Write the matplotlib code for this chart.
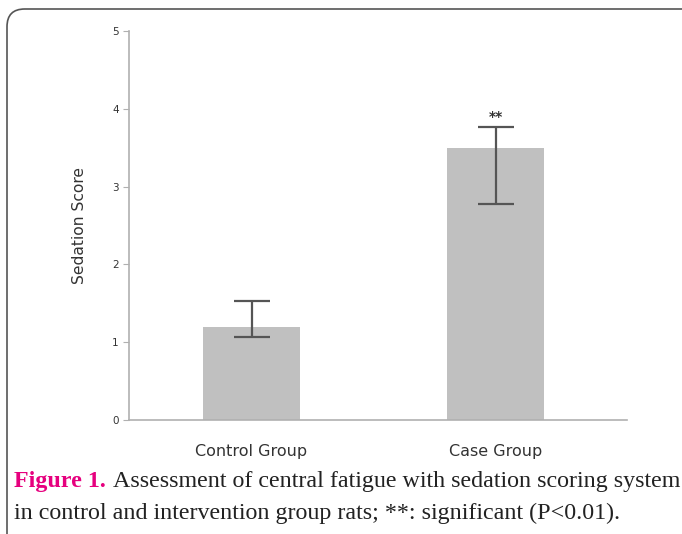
import numpy as np
import matplotlib.pyplot as plt
from matplotlib.patches import FancyBboxPatch

groups = ['Control Group', 'Case Group']
scores = [1.2, 3.5]
err_low = [0.13, 0.72]
err_high = [0.33, 0.27]
sig = ['', '**']
yticks = [0, 1, 2, 3, 4, 5]

fig = plt.figure(figsize=(6.82, 5.34), dpi=100)

# rounded frame around the figure (runs off the right and bottom edges)
frame = FancyBboxPatch((7 / 682, -20 / 534), 720 / 682, 545 / 534,
                       boxstyle='round,pad=0,rounding_size=0.026',
                       transform=fig.transFigure, facecolor='none',
                       edgecolor='#555555', linewidth=1.2, mutation_aspect=682 / 534)
fig.patches.append(frame)

ax = fig.add_axes([129 / 682, 1 - 420 / 534, 498 / 682, 389 / 534])
x = np.arange(len(groups))
ax.bar(x, scores, width=0.4, color='#c0c0c0', zorder=2)
ax.errorbar(x, scores, yerr=[err_low, err_high], fmt='none', ecolor='#555555',
            elinewidth=1.6, capsize=13, capthick=1.6, zorder=3)
for xi, s, eh, label in zip(x, scores, err_high, sig):
    if label:
        ax.text(xi, s + eh + 0.03, label, ha='center', va='bottom',
                fontsize=10, fontweight='bold', color='#333333')

ax.set_xlim(-0.502, 1.538)
ax.set_ylim(0, 5)
ax.set_yticks(yticks)
ax.set_xticks(x)
ax.set_xticklabels(groups, fontsize=11.5, color='#333333')
ax.tick_params(axis='y', labelsize=7.5, colors='#333333', length=4, color='#b0b0b0')
ax.tick_params(axis='x', length=0, pad=17)
ax.set_ylabel('Sedation Score', fontsize=11.2, color='#333333', labelpad=18)
for side in ['top', 'right']:
    ax.spines[side].set_visible(False)
for side in ['left', 'bottom']:
    ax.spines[side].set_color('#b0b0b0')
    ax.spines[side].set_linewidth(1.2)

# caption
cap_size = 17.3
fig.text(14 / 682, 1 - 481 / 534, 'Figure 1.', fontsize=cap_size, fontweight='bold',
         color='#e6007e', family='Liberation Serif', va='center')
fig.text(113 / 682, 1 - 481 / 534,
         'Assessment of central fatigue with sedation scoring system',
         fontsize=cap_size, color='#222222', family='Liberation Serif', va='center')
fig.text(14 / 682, 1 - 513 / 534,
         'in control and intervention group rats; **: significant (P<0.01).',
         fontsize=cap_size, color='#222222', family='Liberation Serif', va='center')

plt.savefig('out.png', dpi=100)
